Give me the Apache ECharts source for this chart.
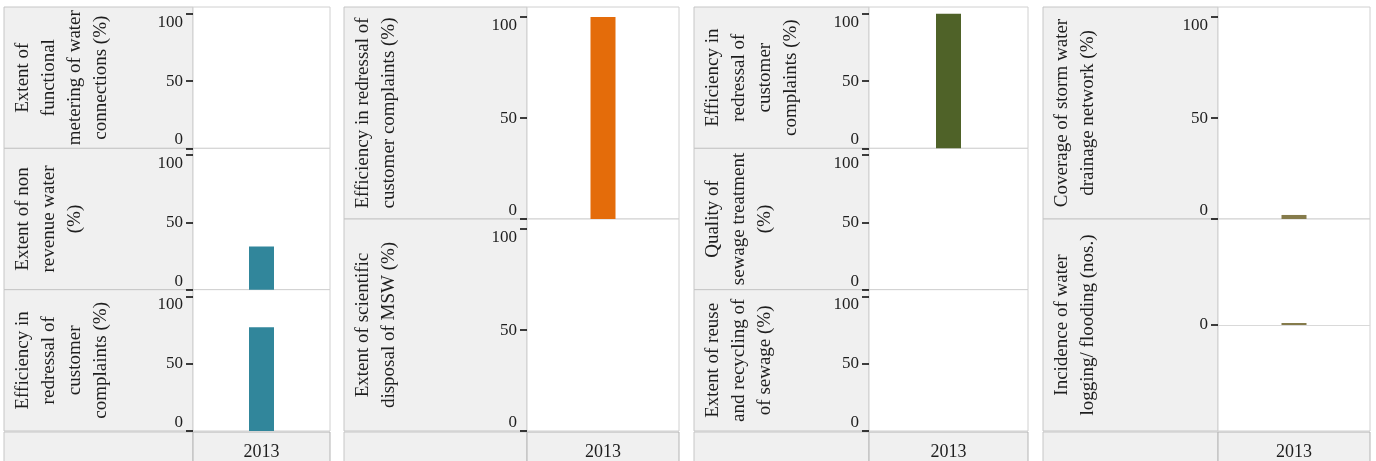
<!DOCTYPE html>
<html>
<head>
<meta charset="utf-8">
<title>Service level benchmarks 2013</title>
<script src="https://cdn.jsdelivr.net/npm/echarts@6/dist/echarts.min.js"></script>
<style>
	html, body { margin: 0; padding: 0; background: #fff; }
	#chart { width: 1376px; height: 461px; }
</style>
</head>
<body>
<div id="chart"></div>
<script>
	// only one year on the x axis
	const years = ['2013'];

	// water supply
	const waterMetering = [null];
	const nonRevenueWater = [32];
	const waterComplaints = [77];
	// solid waste management
	const swmComplaints = [100];
	const mswDisposal = [null];
	// sewerage
	const sewerageComplaints = [100];
	const sewageTreatment = [null];
	const sewageReuse = [null];
	// storm water drainage
	const stormDrainage = [2];
	const waterLogging = [0];

	// tick labels
	const pctTicks = [0, 50, 100];
	const countTicks = [0];

	const FONT = '"Liberation Serif", "Times New Roman", serif';
	const TEXT = '#1e1e1e';
	const TOP = 7;
	const BOTTOM = 431;

	// four dashboard columns: label area from left to split, plot from split to right
	const columns = [
		{
			left: 4, split: 193, right: 330, color: '#31869B',
			panels: [
				{ title: 'Extent of\nfunctional\nmetering of water\nconnections (%)', data: waterMetering, ticks: pctTicks, min: 0, max: 105 },
				{ title: 'Extent of non\nrevenue water\n(%)', data: nonRevenueWater, ticks: pctTicks, min: 0, max: 105 },
				{ title: 'Efficiency in\nredressal of\ncustomer\ncomplaints (%)', data: waterComplaints, ticks: pctTicks, min: 0, max: 105 }
			]
		},
		{
			left: 344, split: 527, right: 679, color: '#E46C0A',
			panels: [
				{ title: 'Efficiency in redressal of\ncustomer complaints (%)', data: swmComplaints, ticks: pctTicks, min: 0, max: 105 },
				{ title: 'Extent of scientific\ndisposal of MSW (%)', data: mswDisposal, ticks: pctTicks, min: 0, max: 105 }
			]
		},
		{
			left: 694, split: 869, right: 1028, color: '#4F6228',
			panels: [
				{ title: 'Efficiency in\nredressal of\ncustomer\ncomplaints (%)', data: sewerageComplaints, ticks: pctTicks, min: 0, max: 105 },
				{ title: 'Quality of\nsewage treatment\n(%)', data: sewageTreatment, ticks: pctTicks, min: 0, max: 105 },
				{ title: 'Extent of reuse\nand recycling of\nof sewage (%)', data: sewageReuse, ticks: pctTicks, min: 0, max: 105 }
			]
		},
		{
			left: 1043, split: 1218, right: 1370, color: '#857B4B',
			panels: [
				{ title: 'Coverage of storm water\ndrainage network (%)', data: stormDrainage, ticks: pctTicks, min: 0, max: 105 },
				{ title: 'Incidence of water\nlogging/ flooding (nos.)', data: waterLogging, ticks: countTicks, min: -1, max: 1, zeroLine: true }
			]
		}
	];

	const grids = [];
	const xAxes = [];
	const yAxes = [];
	const series = [];
	const graphics = [];

	columns.forEach(col => {
		const n = col.panels.length;
		const rowH = (BOTTOM - TOP) / n;
		col.panels.forEach((p, r) => {
			const idx = grids.length;
			const top = TOP + r * rowH;
			const isLast = r === n - 1;

			grids.push({
				left: col.split,
				top: top,
				width: col.right - col.split,
				height: rowH,
				show: true,
				backgroundColor: '#fff',
				borderColor: '#d0d0d0',
				borderWidth: 1,
				outerBoundsMode: 'none'
			});

			xAxes.push({
				type: 'category',
				gridIndex: idx,
				data: years,
				show: isLast,
				axisLine: { show: false, onZero: false },
				axisTick: { show: false },
				axisLabel: { margin: 12, fontFamily: FONT, fontSize: 18, color: TEXT }
			});

			const label = {
				customValues: p.ticks,
				margin: 10,
				fontFamily: FONT,
				fontSize: 17,
				color: TEXT
			};
			// keep the end labels inside the row
			if (p.ticks.length > 1) {
				label.verticalAlignMinLabel = 'bottom';
				label.verticalAlignMaxLabel = 'top';
			}
			yAxes.push({
				type: 'value',
				gridIndex: idx,
				min: p.min,
				max: p.max,
				axisLine: { show: false },
				axisTick: {
					show: true,
					length: 7,
					customValues: p.ticks,
					lineStyle: { color: '#000', width: 1.5 }
				},
				axisLabel: label,
				splitLine: { show: false }
			});

			const s = {
				type: 'bar',
				xAxisIndex: idx,
				yAxisIndex: idx,
				data: p.data,
				barWidth: 25,
				itemStyle: { color: col.color }
			};
			if (p.zeroLine) {
				s.barMinHeight = 2;
				s.markLine = {
					silent: true,
					symbol: 'none',
					label: { show: false },
					lineStyle: { color: '#d9d9d9', type: 'solid', width: 1 },
					data: [{ yAxis: 0 }]
				};
			}
			series.push(s);

			// grey label cell and its rotated title
			graphics.push({
				type: 'rect',
				z: -1,
				shape: { x: col.left, y: top, width: col.split - col.left, height: rowH },
				style: { fill: '#f0f0f0', stroke: '#c6c6c6', lineWidth: 1 }
			});
			graphics.push({
				type: 'text',
				x: col.left + 6,
				y: top + rowH / 2,
				rotation: Math.PI / 2,
				style: {
					text: p.title,
					fontFamily: FONT,
					fontSize: 19,
					lineHeight: 26,
					fill: TEXT,
					align: 'center',
					verticalAlign: 'top',
					textAlign: 'center',
					textVerticalAlign: 'top'
				}
			});
		});

		// header row under each column
		graphics.push({
			type: 'rect',
			z: -1,
			shape: { x: col.left, y: BOTTOM + 1, width: col.split - col.left, height: 40 },
			style: { fill: '#f0f0f0', stroke: '#c6c6c6', lineWidth: 1 }
		});
		graphics.push({
			type: 'rect',
			z: -1,
			shape: { x: col.split, y: BOTTOM + 1, width: col.right - col.split, height: 40 },
			style: { fill: '#f0f0f0', stroke: '#b4b4b4', lineWidth: 1 }
		});
	});

	const chartInstance = echarts.init(document.getElementById('chart'));
	chartInstance.setOption({
		animation: false,
		backgroundColor: '#fff',
		grid: grids,
		xAxis: xAxes,
		yAxis: yAxes,
		series: series,
		graphic: { elements: graphics }
	});
</script>
</body>
</html>
